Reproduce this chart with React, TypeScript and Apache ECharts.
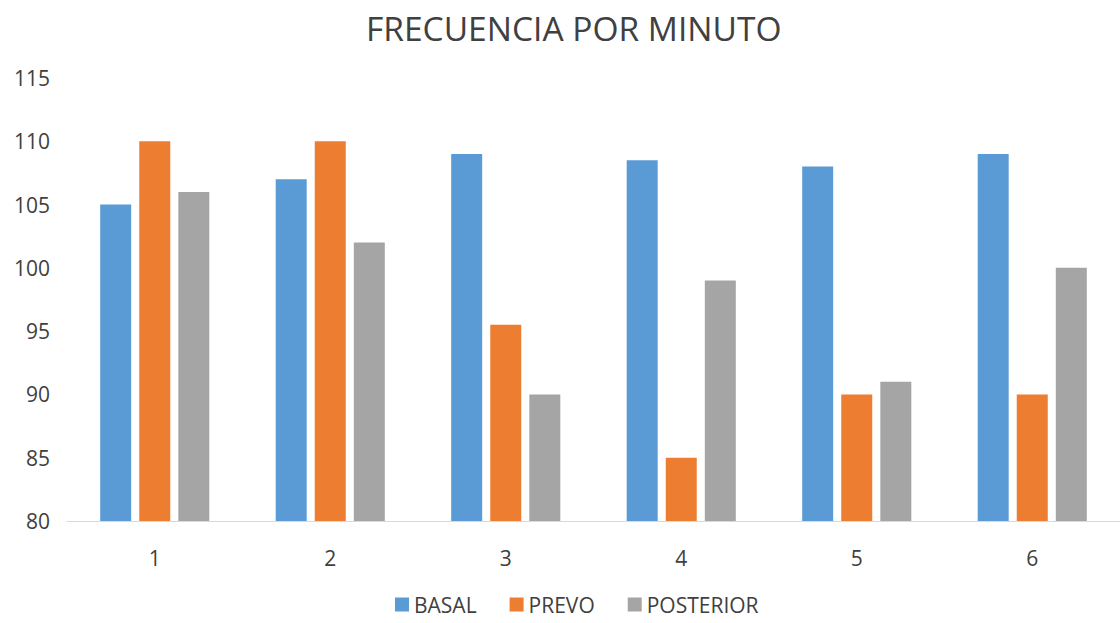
import React, { useEffect, useRef } from "react";
import * as echarts from "echarts";

const categories = ["1", "2", "3", "4", "5", "6"];
const basal = [105, 107, 109, 108.5, 108, 109];
const prevo = [110, 110, 95.5, 85, 90, 90];
const posterior = [106, 102, 90, 99, 91, 100];
const seriesNames = ["BASAL", "PREVO", "POSTERIOR"];
const colors = ["#5B9BD5", "#ED7D31", "#A5A5A5"];

export default function App() {
  const ref = useRef<HTMLDivElement>(null);
  useEffect(() => {
    if (!ref.current) return;
    const chart = echarts.init(ref.current, null, { renderer: "svg" });
    const font = "'Open Sans', 'Noto Sans', sans-serif";
    const data = [basal, prevo, posterior];
    chart.setOption({
      animation: false,
      color: colors,
      title: {
        text: "FRECUENCIA POR MINUTO",
        left: 361,
        top: 6,
        textStyle: { fontFamily: font, fontSize: 33.5, fontWeight: "normal", color: "#404040" },
      },
      legend: {
        bottom: 3,
        left: 390,
        itemWidth: 14,
        itemHeight: 14,
        itemGap: 33,
        icon: "rect",
        textStyle: { fontFamily: font, fontSize: 21, color: "#404040" },
        data: seriesNames,
      },
      grid: { left: 67, top: 78, right: -3, height: 443, containLabel: false },
      xAxis: {
        type: "category",
        data: categories,
        axisLine: { lineStyle: { color: "#D9D9D9", width: 1 } },
        axisTick: { show: false },
        axisLabel: { fontFamily: font, fontSize: 21, color: "#404040", margin: 26 },
      },
      yAxis: {
        type: "value",
        min: 80,
        max: 115,
        interval: 5,
        splitLine: { show: false },
        axisLine: { show: false },
        axisTick: { show: false },
        axisLabel: { fontFamily: font, fontSize: 21, color: "#404040", margin: 17 },
      },
      series: seriesNames.map((name, i) => ({
        name,
        type: "bar",
        data: data[i],
        barWidth: 31,
        barGap: "26%",
        itemStyle: { color: colors[i] },
      })),
    });
    return () => chart.dispose();
  }, []);
  return (
    <div
      ref={ref}
      style={{ position: "absolute", left: 0, top: 0, width: 1120, height: 623, background: "#fff" }}
    />
  );
}
